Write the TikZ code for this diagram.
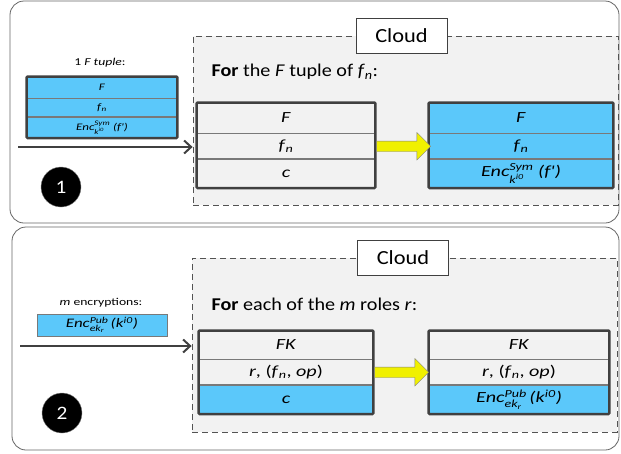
\documentclass[tikz,border=0pt]{standalone}
\usepackage{amsmath}
\usepackage{fontspec}
\setmainfont{Carlito}[FakeStretch=1.12]
\newfontfamily\cellfont{Carlito}[FakeStretch=1.3]
\usetikzlibrary{shapes, arrows.meta, fit, positioning}

\definecolor{cellblue}{RGB}{91,200,250}
\definecolor{framegray}{RGB}{64,64,64}
\definecolor{cloudfill}{RGB}{242,242,242}
\definecolor{arrowyellow}{RGB}{240,240,0}

\newcommand{\fnsub}{\textit{f}$_{\textit{n}}$}
\newcommand{\encsym}{\textit{Enc}$^{\textit{Sym}}_{\textit{k}^{\textit{i0}}}$\ \textit{(f')}}
\newcommand{\encpub}{\textit{Enc}$^{\textit{Pub}}_{\textit{ek}_{\textit{r}}}$\,\textit{(k}$^{\textit{i0}}$\textit{)}}

\tikzset{
  panel/.style={draw=framegray!80, rounded corners=14pt, line width=0.8pt, fill=white},
  cloudbox/.style={draw=framegray!90, dash pattern=on 6pt off 4pt, fill=cloudfill, line width=0.8pt, inner sep=0pt},
  cloudlabel/.style={draw=framegray, fill=white, font=\fontsize{20}{22}\selectfont, minimum width=91pt, minimum height=35pt, inner sep=0pt},
  cell/.style={draw=framegray!70, line width=0.8pt, font=\cellfont\fontsize{15.5}{17}\selectfont, inner sep=0pt},
  smallcell/.style={cell, fill=cellblue, minimum width=150pt, font=\cellfont\fontsize{10}{11}\selectfont},
  tabframe/.style={draw=framegray, line width=2.5pt, inner sep=0pt, rounded corners=1pt},
  yarrow/.style={single arrow, draw=gray, fill=arrowyellow, minimum height=54pt, single arrow head extend=8.5pt, inner sep=5pt},
  numdot/.style={circle, fill=black, draw=gray, minimum size=40pt, text=white, font=\fontsize{19}{21}\selectfont},
  inarrow/.style={-{Straight Barb[length=7pt, width=13pt]}, draw=framegray, line width=2pt},
  smalltext/.style={font=\cellfont\fontsize{10.5}{12}\selectfont},
  fortext/.style={anchor=west, font=\fontsize{18}{20}\selectfont}
}

\begin{document}
\begin{tikzpicture}[x=1pt, y=-1pt]
\useasboundingbox (0,0) rectangle (621,453);

% upper panel
\draw[panel] (10,1) rectangle (619,223);
\node[cloudbox, minimum width=425pt, minimum height=169pt] (cbox1) at (405.5,120.5) {};
\node[cloudlabel] (cloud1) at (401.5,35.5) {Cloud};
\node[fortext] (for1) at (208,72) {\textbf{For} the \textit{F} tuple of \fnsub:};

\node[smalltext] (lab1) at (100,63) {1 \textit{F tuple}:};
\node[smallcell, minimum height=21pt] (s1a) at (102,87.5) {\textit{F}};
\node[smallcell, minimum height=18pt, below=0pt of s1a] (s1b) {\fnsub};
\node[smallcell, minimum height=20pt, below=0pt of s1b] (s1c) {\encsym};
\node[tabframe, fit=(s1a)(s1c)] (s1) {};

\coordinate (in1) at (18,147);
\draw[inarrow] (in1) -- (in1 -| cbox1.west);
\node[numdot] (n1) at (61,187) {1};

\node[cell, minimum width=178pt, minimum height=30pt] (t1a) at (286,118) {\textit{F}};
\node[cell, minimum width=178pt, minimum height=25pt, below=0pt of t1a] (t1b) {\fnsub};
\node[cell, minimum width=178pt, minimum height=28pt, below=0pt of t1b] (t1c) {\textit{c}};
\node[tabframe, fit=(t1a)(t1c)] (t1) {};

\node[cell, fill=cellblue, minimum width=184pt, minimum height=30pt] (u1a) at (521,118) {\textit{F}};
\node[cell, fill=cellblue, minimum width=184pt, minimum height=25pt, below=0pt of u1a] (u1b) {\fnsub};
\node[cell, fill=cellblue, minimum width=184pt, minimum height=28pt, below=0pt of u1b] (u1c) {\encsym};
\node[tabframe, fit=(u1a)(u1c)] (u1) {};

\node[yarrow, right=1pt of t1b] (ya1) {};

% lower panel
\draw[panel] (12,227) rectangle (619,450);
\node[cloudbox, minimum width=425pt, minimum height=174pt] (cbox2) at (404.5,345) {};
\node[cloudlabel] (cloud2) at (403,257.5) {Cloud};
\node[fortext] (for2) at (208,304) {\textbf{For} each of the \textit{m} roles \textit{r}:};

\node[smalltext] (lab2) at (101,303) {\textit{m} encryptions:};
\node[smallcell, minimum width=130pt, minimum height=22pt, font=\cellfont\fontsize{13}{14}\selectfont] (s2) at (102,325) {\encpub};

\coordinate (in2) at (20,346);
\draw[inarrow] (in2) -- (in2 -| cbox2.west);
\node[numdot] (n2) at (62,413) {2};

\node[cell, minimum width=174pt, minimum height=28pt] (t2a) at (286,345) {\textit{FK}};
\node[cell, minimum width=174pt, minimum height=25pt, below=0pt of t2a] (t2b) {\textit{r}, (\fnsub, \textit{op})};
\node[cell, fill=cellblue, minimum width=174pt, minimum height=28pt, below=0pt of t2b] (t2c) {\textit{c}};
\node[tabframe, fit=(t2a)(t2c)] (t2) {};

\node[cell, minimum width=180pt, minimum height=28pt] (u2a) at (519,345) {\textit{FK}};
\node[cell, minimum width=180pt, minimum height=25pt, below=0pt of u2a] (u2b) {\textit{r}, (\fnsub, \textit{op})};
\node[cell, fill=cellblue, minimum width=180pt, minimum height=28pt, below=0pt of u2b] (u2c) {\encpub};
\node[tabframe, fit=(u2a)(u2c)] (u2) {};

\node[yarrow, right=1pt of t2b] (ya2) {};
\end{tikzpicture}
\end{document}
